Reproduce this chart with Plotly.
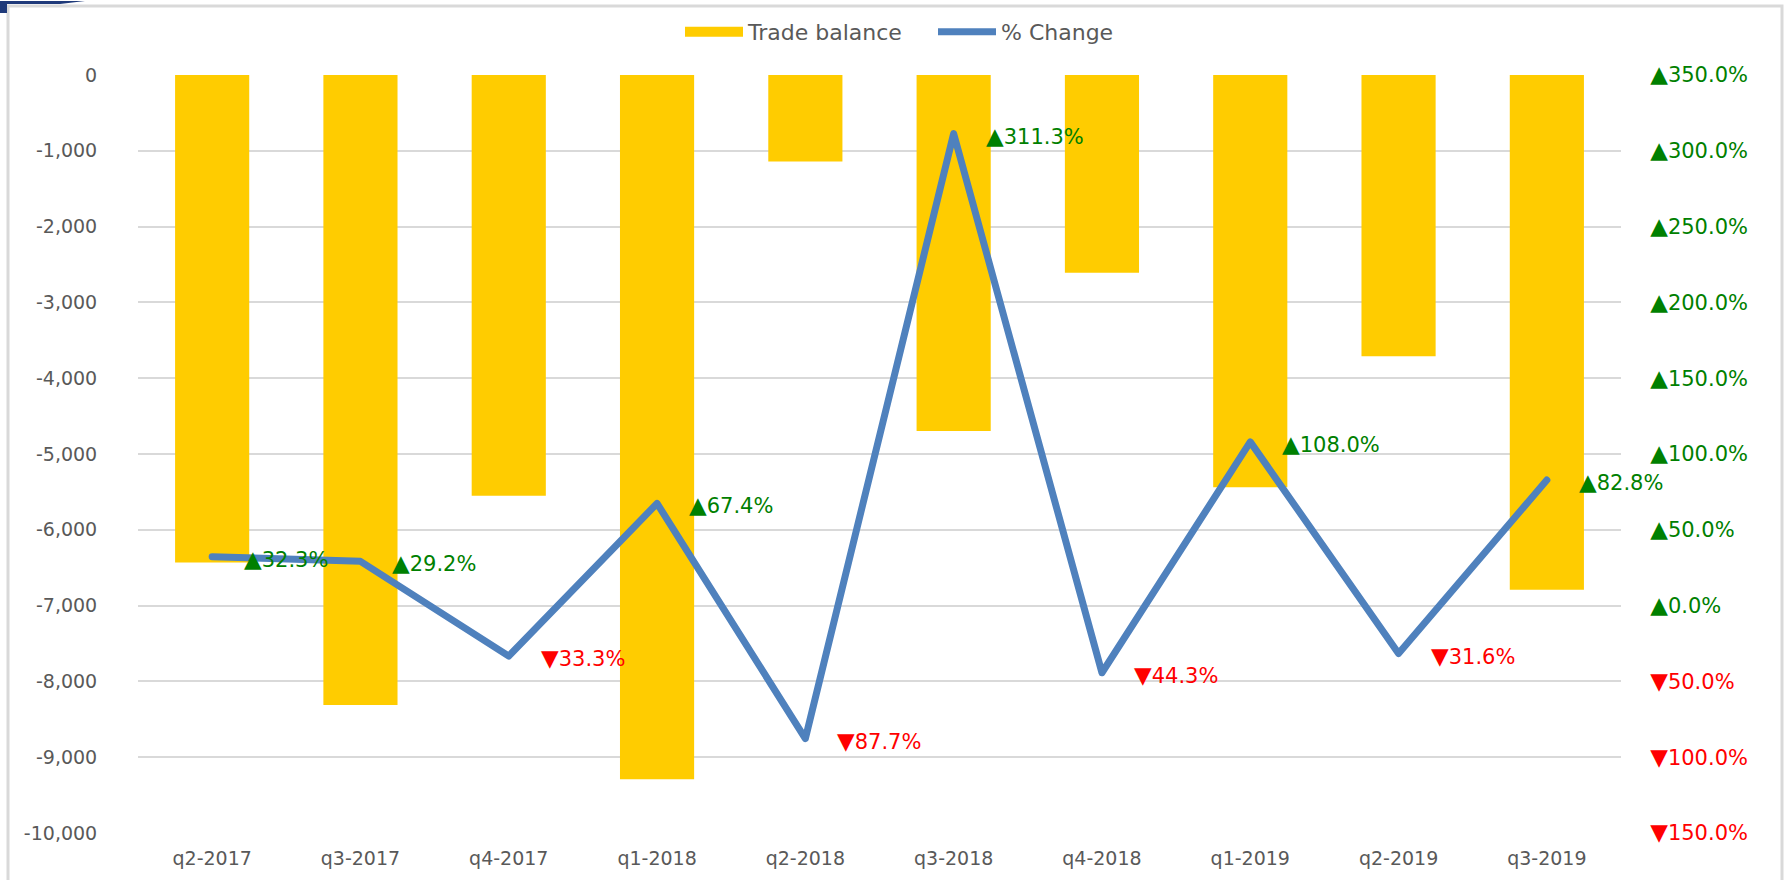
import plotly.graph_objects as go

# ── Design tokens ────────────────────────────────────────────────────────────
_BG     = "#FFFFFF"
_GRID   = "#D9D9D9"
_TEXT   = "#595959"
_BAR    = "#FFCC00"
_LINE   = "#4F81BD"
_UP     = "#008000"
_DOWN   = "#FF0000"
_FRAME  = "#D9D9D9"
_NAVY   = "#1F3A7A"
_FONT   = "DejaVu Sans, Verdana, sans-serif"

W, H = 1787, 880
M = dict(l=138, r=166, t=74, b=47)

# ── Data ─────────────────────────────────────────────────────────────────────
quarters = ["q2-2017", "q3-2017", "q4-2017", "q1-2018", "q2-2018",
            "q3-2018", "q4-2018", "q1-2019", "q2-2019", "q3-2019"]
trade_balance = [-6430, -8310, -5550, -9290, -1140,
                 -4695, -2610, -5440, -3710, -6790]
pct_change = [32.3, 29.2, -33.3, 67.4, -87.7, 311.3, -44.3, 108.0, -31.6, 82.8]

left_ticks = [0, -1000, -2000, -3000, -4000, -5000,
              -6000, -7000, -8000, -9000, -10000]
right_ticks = [350, 300, 250, 200, 150, 100, 50, 0, -50, -100, -150]


def _signed(v, decimals=1):
    up = v >= 0
    arrow = "▲" if up else "▼"
    color = _UP if up else _DOWN
    text = (f'<span style="font-size:23px">{arrow}</span>'
            f'{abs(v):.{decimals}f}%')
    return text, color


def _px_x(px):
    return (px - M["l"]) / (W - M["l"] - M["r"])


def _px_y(py):
    return 1 - (py - M["t"]) / (H - M["t"] - M["b"])


left_text = [f"{v:,}" for v in left_ticks]   # plain hyphen, as in Excel
right_text = []
for v in right_ticks:
    t, c = _signed(v)
    right_text.append(f'<span style="color:{c}">{t}</span>')

fig = go.Figure()
fig.add_trace(go.Bar(
    x=quarters, y=trade_balance,
    name="Trade balance",
    marker=dict(color=_BAR, line=dict(width=0)),
    yaxis="y",
    showlegend=False,
))
# legend-only entry so the swatch is a wide block like Excel's
fig.add_trace(go.Scatter(
    x=[None], y=[None],
    name="Trade balance",
    mode="lines",
    line=dict(color=_BAR, width=11),
    yaxis="y",
))
fig.add_trace(go.Scatter(
    x=quarters, y=pct_change,
    name="% Change",
    mode="lines",
    line=dict(color=_LINE, width=7),
    yaxis="y2",
))

annotations = []
for q, v in zip(quarters, pct_change):
    t, c = _signed(v)
    annotations.append(dict(
        x=q, y=v, xref="x", yref="y2",
        text=t, showarrow=False,
        xanchor="left", yanchor="middle",
        xshift=30, yshift=-2,
        font=dict(family=_FONT, size=21, color=c),
    ))

shapes = [
    # chart frame
    dict(type="rect", xref="paper", yref="paper",
         x0=_px_x(8), x1=_px_x(1782), y0=_px_y(890), y1=_px_y(5),
         line=dict(color=_FRAME, width=3), fillcolor="rgba(0,0,0,0)",
         layer="below"),
    # navy corner piece from the page behind
    dict(type="path", xref="paper", yref="paper",
         path=(f"M {_px_x(0)},{_px_y(0)} L {_px_x(85)},{_px_y(0)} "
               f"L {_px_x(60)},{_px_y(3)} L {_px_x(7)},{_px_y(3)} "
               f"L {_px_x(7)},{_px_y(12)} L {_px_x(0)},{_px_y(12)} Z"),
         line=dict(width=0), fillcolor=_NAVY),
]

fig.update_layout(
    template=None,
    width=W, height=H,
    paper_bgcolor=_BG, plot_bgcolor=_BG,
    font=dict(family=_FONT, color=_TEXT, size=19),
    margin=M,
    bargap=0.5,
    showlegend=True,
    legend=dict(
        orientation="h",
        x=_px_x(933), xanchor="center",
        y=1 + (M["t"] - 32) / (H - M["t"] - M["b"]), yanchor="middle",
        font=dict(family=_FONT, color=_TEXT, size=22),
        bgcolor="rgba(0,0,0,0)",
        itemwidth=58,
        entrywidth=180, entrywidthmode="pixels",
    ),
    xaxis=dict(
        range=[-0.5, len(quarters) - 0.5],
        showgrid=False, showline=False, zeroline=False,
        ticks="outside", ticklen=8, tickcolor="rgba(0,0,0,0)",
        tickfont=dict(family=_FONT, color=_TEXT, size=19),
    ),
    yaxis=dict(
        range=[-10000, 0],
        tickvals=left_ticks, ticktext=left_text,
        showgrid=True, gridcolor=_GRID, gridwidth=2,
        zeroline=False, showline=False,
        ticks="outside", ticklen=36, tickcolor="rgba(0,0,0,0)",
        tickfont=dict(family=_FONT, color=_TEXT, size=19),
    ),
    yaxis2=dict(
        range=[-150, 350],
        overlaying="y", side="right",
        tickvals=right_ticks, ticktext=right_text,
        showgrid=False, zeroline=False, showline=False,
        ticks="outside", ticklen=24, tickcolor="rgba(0,0,0,0)",
        tickfont=dict(family=_FONT, size=21),
    ),
    annotations=annotations,
    shapes=shapes,
)

# page body has a default 8px margin; drop it so the chart sits at 0,0,
# and give the % line round joins like the Excel original
post = (
    "document.body.style.margin='0';"
    "var s=document.createElement('style');"
    "s.textContent='.scatterlayer .js-line{stroke-linejoin:round!important;"
    "stroke-linecap:round!important}';"
    "document.head.appendChild(s);"
)
fig.write_html("out.html", post_script=post,
               config={"displayModeBar": False})
